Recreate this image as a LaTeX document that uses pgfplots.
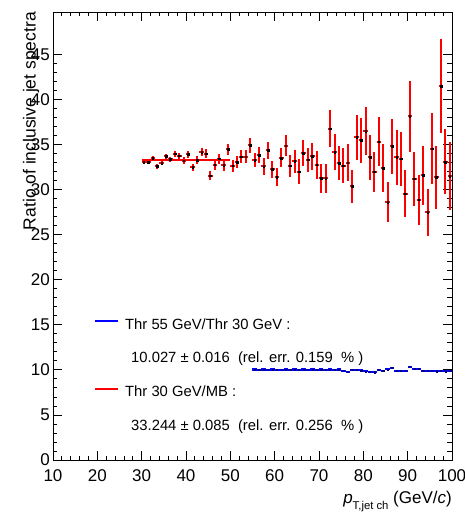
\documentclass[border=0pt]{standalone}
\usepackage{fontspec}
\setmainfont{Liberation Sans}
\usepackage{pgfplots}
\pgfplotsset{compat=1.18}
\usepackage{pgfplotstable}

\pgfplotstableread{
x y ex ey
30.5 33.06 0.5 0.19
31.5 33.02 0.5 0.19
32.5 33.47 0.5 0.21
33.5 32.56 0.5 0.23
34.5 32.94 0.5 0.25
35.5 33.70 0.5 0.28
36.5 33.36 0.5 0.30
37.5 33.96 0.5 0.32
38.5 33.74 0.5 0.35
39.5 33.21 0.5 0.37
40.5 33.92 0.5 0.40
41.5 32.45 0.5 0.42
42.5 33.28 0.5 0.44
43.5 34.15 0.5 0.47
44.5 34.00 0.5 0.49
45.5 31.55 0.5 0.52
46.5 32.75 0.5 0.54
47.5 33.43 0.5 0.57
48.5 32.68 0.5 0.60
49.5 34.45 0.5 0.66
50.5 32.64 0.5 0.64
51.5 33.06 0.5 0.68
52.5 33.66 0.5 0.74
53.5 33.66 0.5 0.76
54.5 34.90 0.5 0.84
55.5 33.28 0.5 0.82
56.5 33.81 0.5 0.86
57.5 32.56 0.5 0.92
58.5 34.34 0.5 0.95
59.5 32.23 0.5 0.98
60.5 31.39 0.5 1.00
61.5 33.51 0.5 1.06
62.5 34.87 0.5 1.18
63.5 32.64 0.5 1.20
64.5 33.13 0.5 1.25
65.5 31.98 0.5 1.36
66.5 34.06 0.5 1.47
67.5 33.30 0.5 1.36
68.5 33.67 0.5 1.50
69.5 32.74 0.5 1.55
70.5 31.23 0.5 1.58
71.5 31.23 0.5 1.58
72.5 36.77 0.5 2.10
73.5 34.17 0.5 1.98
74.5 32.93 0.5 1.92
75.5 32.66 0.5 1.98
76.5 33.00 0.5 2.07
77.5 30.36 0.5 1.83
78.5 35.82 0.5 2.49
79.5 35.45 0.5 2.45
80.5 36.50 0.5 2.67
81.5 33.56 0.5 2.45
82.5 31.98 0.5 2.20
83.5 35.30 0.5 2.73
84.5 32.40 0.5 2.62
85.5 28.63 0.5 2.22
86.5 34.80 0.5 3.05
87.5 33.56 0.5 3.00
88.5 33.41 0.5 2.96
89.5 29.54 0.5 2.58
90.5 38.13 0.5 3.96
91.5 31.19 0.5 3.00
92.5 28.86 0.5 2.81
93.5 31.57 0.5 3.24
94.5 27.46 0.5 2.64
95.5 34.54 0.5 3.90
96.5 31.35 0.5 3.52
97.5 41.50 0.5 5.20
98.5 33.07 0.5 3.60
99.5 31.49 0.5 3.80
}\reddata

\pgfplotstableread{
x y ex ey
55.5 10.04 0.5 0.02
56.5 10.03 0.5 0.02
57.5 10.05 0.5 0.02
58.5 10.02 0.5 0.02
59.5 10.04 0.5 0.02
60.5 10.03 0.5 0.03
61.5 10.02 0.5 0.03
62.5 10.05 0.5 0.03
63.5 10.03 0.5 0.03
64.5 10.04 0.5 0.03
65.5 10.02 0.5 0.03
66.5 10.05 0.5 0.04
67.5 10.03 0.5 0.04
68.5 10.04 0.5 0.04
69.5 10.02 0.5 0.04
70.5 10.04 0.5 0.04
71.5 10.03 0.5 0.05
72.5 10.05 0.5 0.05
73.5 10.02 0.5 0.05
74.5 10.06 0.5 0.05
75.5 9.88 0.5 0.05
76.5 9.80 0.5 0.06
77.5 10.00 0.5 0.06
78.5 9.98 0.5 0.06
79.5 9.95 0.5 0.06
80.5 9.82 0.5 0.06
81.5 9.78 0.5 0.07
82.5 9.75 0.5 0.07
83.5 9.98 0.5 0.07
84.5 9.90 0.5 0.07
85.5 10.05 0.5 0.08
86.5 10.20 0.5 0.08
87.5 9.92 0.5 0.08
88.5 9.90 0.5 0.08
89.5 9.88 0.5 0.08
90.5 10.35 0.5 0.09
91.5 10.15 0.5 0.09
92.5 10.12 0.5 0.09
93.5 9.90 0.5 0.09
94.5 9.88 0.5 0.10
95.5 9.88 0.5 0.10
96.5 9.86 0.5 0.10
97.5 9.90 0.5 0.10
98.5 9.85 0.5 0.11
99.5 9.92 0.5 0.11
}\bluedata

\begin{document}
\begin{tikzpicture}
\useasboundingbox (-53pt,-52pt) rectangle (412pt,460pt);
\begin{axis}[
  at={(0,0)}, anchor=south west,
  scale only axis, width=399pt, height=448pt,
  xmin=10, xmax=100, ymin=0, ymax=49.7,
  xtick={10,20,...,100}, ytick={0,5,...,45},
  minor x tick num=4, minor y tick num=4,
  tick align=inside,
  major tick length=9pt, minor tick length=4.5pt,
  tick style={black, line width=0.8pt},
  axis line style={line width=0.8pt},
  ticklabel style={font=\fontsize{17}{20}\selectfont},
  /pgf/number format/assume math mode=true,
  xticklabel style={inner sep=0pt, yshift=-9pt},
  yticklabel style={inner sep=0pt, xshift=-3pt},
  xlabel={\textit{p}\raisebox{-6pt}{\fontsize{11.3}{13}\selectfont T,jet ch} (GeV/\textit{c})},
  xlabel style={font=\fontsize{17}{20}\selectfont, at={(axis description cs:1,-0.098)}, anchor=base east, inner sep=0pt},
  ylabel={Ratio of inclusive jet spectra},
  ylabel style={font=\fontsize{17.5}{20}\selectfont, at={(axis description cs:-0.055,1)}, anchor=east, inner sep=0pt},
  legend cell align=left,
  legend image code/.code={\draw[#1, line width=2pt] (0pt,4pt) -- (23pt,4pt);},
  legend style={at={(axis cs:19.25,15.76)}, anchor=north west, draw=none, fill=none, inner sep=0pt,
    row sep=19.7pt, column sep=6pt, font=\fontsize{14.8}{17}\selectfont,
    nodes={inner sep=0pt, text height=11pt, text depth=3pt}},
]
\addplot[red, only marks, mark=square*, mark size=0.8pt, mark options={black}, forget plot,
  error bars/.cd, x dir=both, x explicit, y dir=both, y explicit,
  error bar style={red, line width=2pt}, error mark=none]
  table[x=x, y=y, x error=ex, y error=ey] {\reddata};
\addplot[blue, only marks, mark=square*, mark size=0.6pt, mark options={blue!50!black}, forget plot,
  error bars/.cd, x dir=both, x explicit, y dir=both, y explicit,
  error bar style={blue, line width=2pt}, error mark=none]
  table[x=x, y=y, x error=ex, y error=ey] {\bluedata};
\addplot[blue, line width=2pt] coordinates {(55,10.027) (75,10.027)};
\addlegendentry{Thr 55 GeV/Thr 30 GeV :}
\addlegendimage{empty legend}
\addlegendentry{\hspace{6pt}10.027 ± 0.016\ \ (rel. err. 0.159\ \ \% )}
\addplot[red, line width=2pt] coordinates {(30,33.244) (50,33.244)};
\addlegendentry{Thr 30 GeV/MB :}
\addlegendimage{empty legend}
\addlegendentry{\hspace{6pt}33.244 ± 0.085\ \ (rel. err. 0.256\ \ \% )}
\end{axis}
\end{tikzpicture}
\end{document}
